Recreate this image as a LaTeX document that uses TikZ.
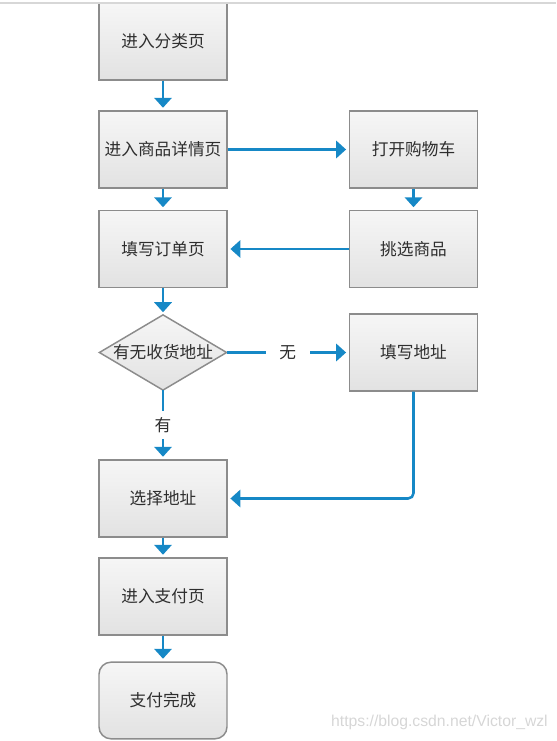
\documentclass[tikz,border=0pt]{standalone}
\usepackage{fontspec}
\newfontfamily\cjk{Noto Sans CJK SC}
\newfontfamily\wmfont{Liberation Sans}
\usetikzlibrary{arrows.meta,calc}
\definecolor{flowblue}{HTML}{1688C6}
\definecolor{boxtop}{HTML}{F6F6F6}
\definecolor{boxbot}{HTML}{E2E2E2}
\definecolor{boxline}{HTML}{8C8C8C}
\definecolor{txt}{HTML}{2E2E2E}
\tikzset{
  box/.style={draw=boxline, line width=1.1pt, top color=boxtop, bottom color=boxbot,
    minimum width=96pt, minimum height=57.5pt, inner sep=0pt,
    font=\cjk\fontsize{12.5}{14}\selectfont, text=txt},
  endbox/.style={box, rounded corners=9pt},
  decisionbox/.style={minimum width=95pt, minimum height=56pt, inner sep=0pt,
    font=\cjk\fontsize{12.5}{14}\selectfont, text=txt},
  flow/.style={draw=flowblue, line width=1.9pt,
    -{Triangle[width=13pt,length=7.5pt]}, shorten >=2pt},
  lbl/.style={fill=white, inner sep=0pt, font=\cjk\fontsize{12.5}{14}\selectfont, text=txt},
}
\begin{document}
\begin{tikzpicture}[x=0.75pt,y=-0.75pt]
\useasboundingbox (0,0) rectangle (556,741);
% left column
\node[box] (b1) at (163,41.5) {进入分类页};
\node[box] (b2) at (163,149.5) {进入商品详情页};
\node[box] (b3) at (163,249) {填写订单页};
\node[decisionbox] (d) at (163,352.5) {};
\fill[top color=boxtop, bottom color=boxbot] (d.north) -- (d.east) -- (d.south) -- (d.west) -- cycle;
\draw[boxline, line width=1.1pt, line join=miter] (d.north) -- (d.east) -- (d.south) -- (d.west) -- cycle;
\node[decisionbox] at (d.center) {有无收货地址};
\node[box] (b5) at (163,498.5) {选择地址};
\node[box] (b6) at (163,596.5) {进入支付页};
\node[endbox] (b7) at (163,700.5) {支付完成};
% right column
\node[box] (r1) at (413.5,149.5) {打开购物车};
\node[box] (r2) at (413.5,249) {挑选商品};
\node[box] (r3) at (413.5,352.5) {填写地址};
% top border of the page
\fill[white] (0,0) rectangle (556,2.4);
\draw[draw={rgb,255:red,215;green,215;blue,215}, line width=1.4pt] (0,3) -- (556,3);
% connectors
\draw[flow] (b1.south) -- (b2.north);
\draw[flow] (b2.south) -- (b3.north);
\draw[flow] (b3.south) -- (d.north);
\draw[flow] (b5.south) -- (b6.north);
\draw[flow] (b6.south) -- (b7.north);
\draw[flow] (r1.south) -- (r2.north);
\draw[flow] (b2.east) -- (r1.west);
\draw[flow] (r2.west) -- (b3.east);
\draw[flow] (d.east) -- node[lbl, minimum width=33pt, minimum height=14pt] {无} (r3.west);
\draw[flow] (d.south) -- node[lbl, minimum width=14pt, minimum height=21pt] {有} (b5.north);
\draw[flow, rounded corners=4pt] (r3.south) |- (b5.east);
% watermark
\node[font=\wmfont\fontsize{11.8}{13}\selectfont, text={rgb,255:red,214;green,214;blue,214}, inner sep=0pt, anchor=east] (wm) at (548,722) {https://blog.csdn.net/Victor\_wzl};
\end{tikzpicture}
\end{document}
